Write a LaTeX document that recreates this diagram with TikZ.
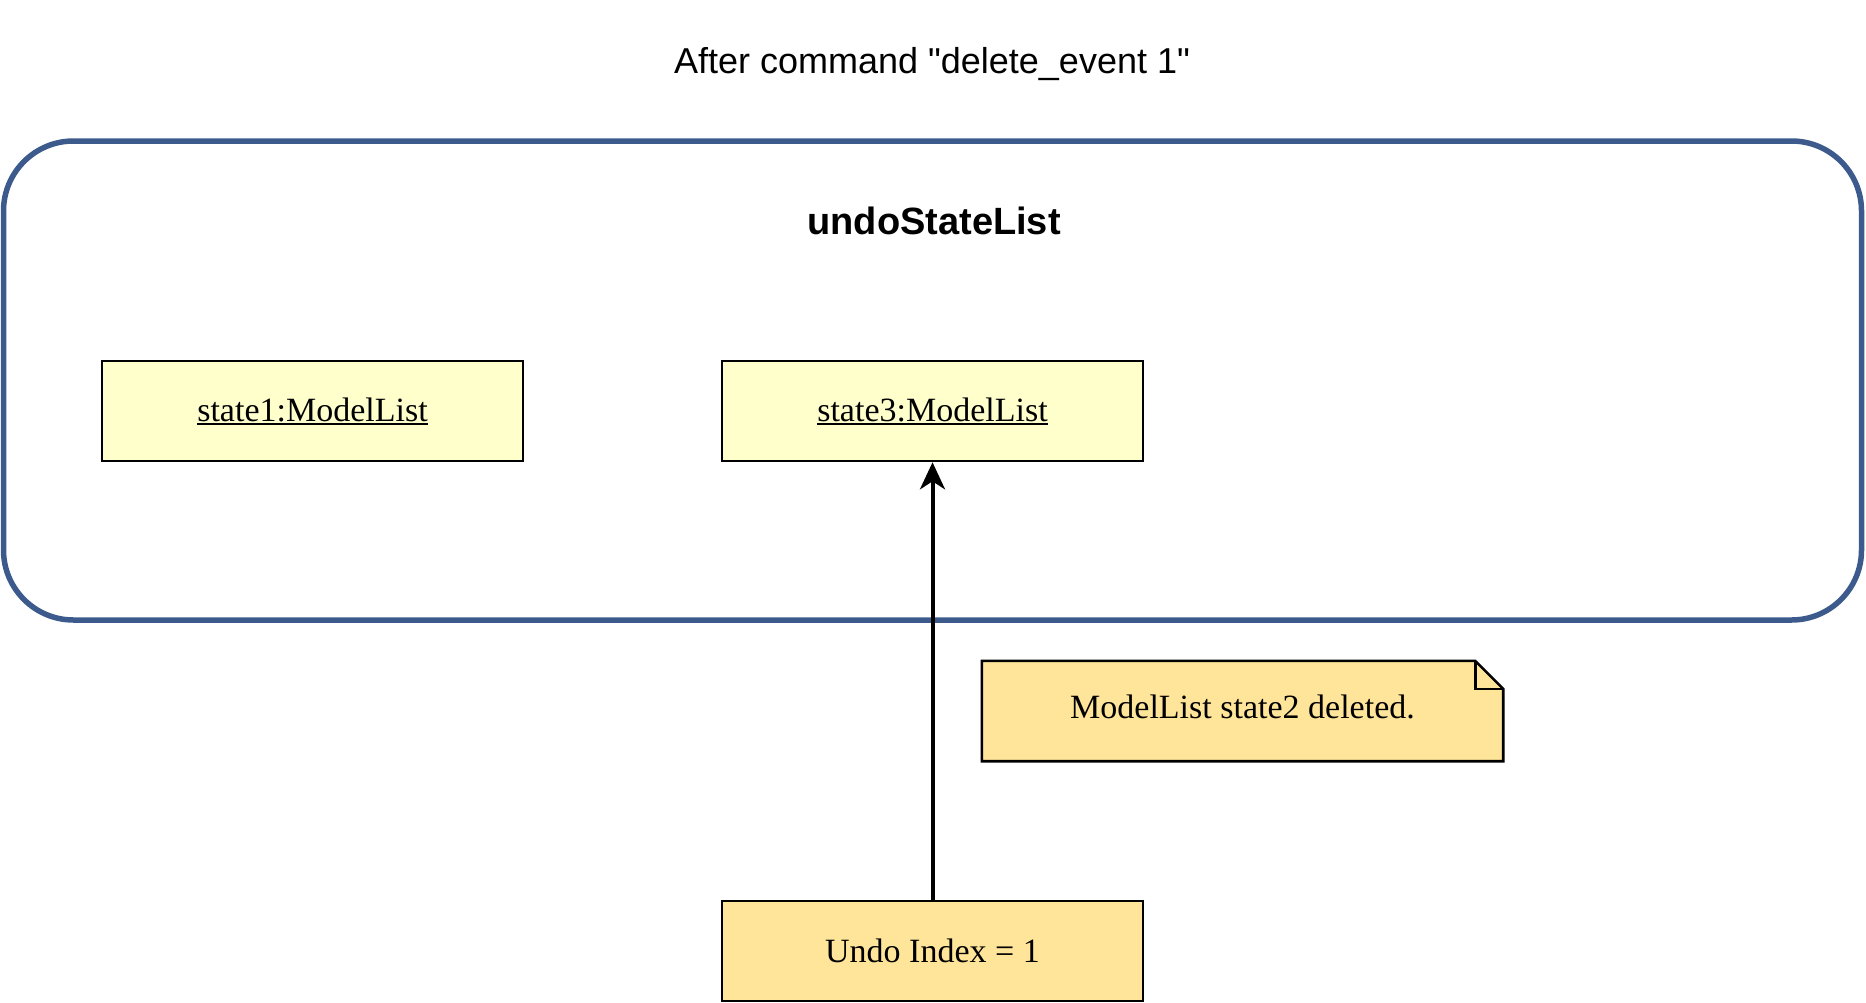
\documentclass[tikz,border=0pt]{standalone}
\usepackage{fontspec}
\setmainfont{Liberation Serif}
\setsansfont[Ligatures=TeXOff]{Liberation Sans}
\usetikzlibrary{arrows.meta,backgrounds}
\definecolor{contblue}{RGB}{60,90,140}
\definecolor{statefill}{RGB}{255,255,204}
\definecolor{notefill}{RGB}{255,229,153}
\newcommand\ulined[1]{\setbox0\hbox{#1}\rlap{\rule[-3.5pt]{\wd0}{1.8pt}}\box0}
\begin{document}
\begin{tikzpicture}[x=1pt,y=-1pt,
  statebox/.style={draw=black, line width=2.6pt, fill=statefill, minimum width=421pt,
    minimum height=100pt, inner sep=0pt, font=\fontsize{34}{40}\selectfont},
  indexbox/.style={statebox, fill=notefill},
  notebox/.style={minimum width=521pt, minimum height=100pt, inner sep=0pt,
    font=\fontsize{34}{40}\selectfont},
  noteline/.style={draw=black, line width=2.6pt, line join=miter},
  container/.style={draw=contblue, line width=5.5pt, rounded corners=70pt,
    minimum width=1858pt, minimum height=479pt, inner sep=0pt},
  titletext/.style={font=\sffamily\fontsize{36}{43}\selectfont, inner sep=0pt},
  labeltext/.style={font=\sffamily\bfseries\fontsize{38}{45}\selectfont, inner sep=0pt},
  arrowline/.style={draw=black, line width=4pt, -{Stealth[length=27pt,width=25pt,inset=8pt]}}
]
\useasboundingbox (0,0) rectangle (1866,1002);
\node[titletext] (title) at (932,64) {After command "delete\_event 1"};
\node[container] (cont) at (932.5,380.5) {};
\node[labeltext] (lbl) at (934,221) {undoStateList};
\node[statebox] (s1) at (312.5,411) {\raisebox{-2.5pt}{\ulined{state1:ModelList}}};
\node[statebox] (s3) at (932.5,411) {\raisebox{-2.5pt}{\ulined{state3:ModelList}}};
\node[notebox] (note) at (1242.5,711) {\raisebox{9.5pt}{ModelList state2 deleted.}};
\begin{pgfonlayer}{background}
\fill[notefill] (note.north west) -- ([xshift=-28pt]note.north east)
  -- ([yshift=-28pt]note.north east) -- (note.south east) -- (note.south west) -- cycle;
\end{pgfonlayer}
\draw[noteline] (note.north west) -- ([xshift=-28pt]note.north east)
  -- ([yshift=-28pt]note.north east) -- (note.south east) -- (note.south west) -- cycle;
\draw[noteline] ([xshift=-28pt]note.north east) -- ([xshift=-28pt,yshift=-28pt]note.north east)
  -- ([yshift=-28pt]note.north east);
\node[indexbox] (undo) at (932.5,951) {Undo Index = 1};
\draw[arrowline] (undo.north) -- (s3.south);
\end{tikzpicture}
\end{document}
